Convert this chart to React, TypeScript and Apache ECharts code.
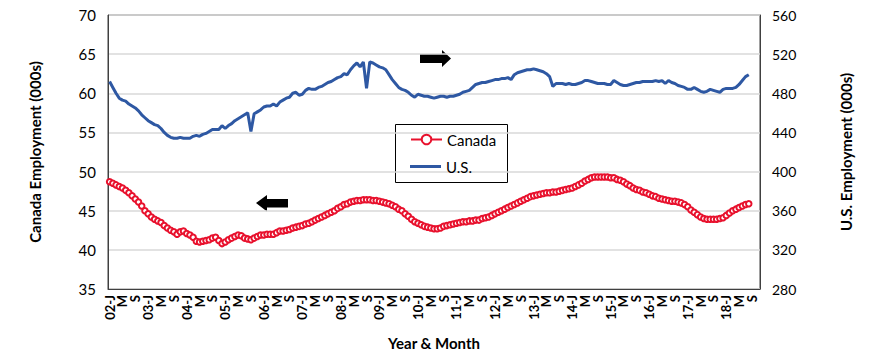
import React, { useEffect, useRef } from "react";
import * as echarts from "echarts";

// Monthly categories Jan 2002 .. Nov 2018
const MONTH_CODES = ["J", "F", "M", "A", "M", "J", "J", "A", "S", "O", "N", "D"];
const START_YEAR = 2002;
const CATEGORY_COUNT = 203;

// Canada employment (000s), monthly from Jan 2002
const canada: number[] = [
  // 2002
  48.7, 48.5, 48.3, 48.1, 47.9, 47.6, 47.3, 46.9, 46.5, 46.1, 45.6, 45.0,
  // 2003
  44.6, 44.2, 43.9, 43.7, 43.5, 43.1, 42.8, 42.5, 42.3, 42.0, 42.3, 42.4,
  // 2004
  42.1, 41.9, 41.6, 41.1, 41.0, 41.1, 41.2, 41.3, 41.5, 41.6, 41.2, 40.8,
  // 2005
  41.0, 41.3, 41.5, 41.7, 41.9, 41.8, 41.5, 41.4, 41.3, 41.5, 41.7, 41.9,
  // 2006
  41.9, 42.0, 42.0, 42.0, 42.2, 42.4, 42.4, 42.5, 42.6, 42.8, 42.9, 43.0,
  // 2007
  43.1, 43.3, 43.4, 43.6, 43.8, 44.0, 44.2, 44.4, 44.6, 44.8, 45.0, 45.3,
  // 2008
  45.5, 45.8, 45.9, 46.1, 46.2, 46.3, 46.3, 46.4, 46.4, 46.4, 46.3, 46.3,
  // 2009
  46.2, 46.1, 46.0, 45.9, 45.7, 45.5, 45.2, 45.0, 44.6, 44.3, 43.9, 43.6,
  // 2010
  43.4, 43.2, 43.0, 42.9, 42.8, 42.7, 42.7, 42.8, 43.0, 43.1, 43.2, 43.3,
  // 2011
  43.4, 43.5, 43.6, 43.6, 43.7, 43.7, 43.8, 43.8, 44.0, 44.1, 44.2, 44.4,
  // 2012
  44.6, 44.8, 45.0, 45.2, 45.4, 45.6, 45.8, 46.0, 46.2, 46.4, 46.6, 46.8,
  // 2013
  46.9, 47.0, 47.1, 47.2, 47.3, 47.3, 47.4, 47.4, 47.5, 47.6, 47.7, 47.8,
  // 2014
  47.9, 48.1, 48.3, 48.5, 48.8, 49.0, 49.2, 49.3, 49.3, 49.3, 49.3, 49.3,
  // 2015
  49.2, 49.2, 49.0, 48.9, 48.7, 48.4, 48.2, 47.9, 47.7, 47.6, 47.4, 47.3,
  // 2016
  47.1, 46.9, 46.8, 46.6, 46.5, 46.4, 46.3, 46.2, 46.2, 46.1, 46.0, 45.8,
  // 2017
  45.5, 45.1, 44.8, 44.5, 44.2, 44.0, 43.9, 43.9, 43.9, 43.9, 44.0, 44.1,
  // 2018
  44.4, 44.7, 45.0, 45.2, 45.4, 45.6, 45.8, 45.9,
];

// U.S. employment (000s), monthly from Jan 2002
const us: number[] = [
  // 2002
  492, 486, 480, 475, 473, 472, 469, 467, 465, 462, 458, 455,
  // 2003
  452, 450, 448, 447, 444, 440, 437, 435, 434, 434, 435, 434,
  // 2004
  434, 434, 436, 437, 436, 438, 439, 441, 443, 443, 443, 447,
  // 2005
  444, 447, 449, 452, 454, 456, 458, 460, 441, 459, 461, 463,
  // 2006
  466, 467, 467, 469, 467, 471, 473, 475, 476, 480, 481, 478,
  // 2007
  479, 483, 485, 484, 484, 486, 487, 489, 491, 492, 494, 496,
  // 2008
  497, 500, 499, 504, 508, 511, 507, 512, 485, 512, 511, 509,
  // 2009
  507, 506, 504, 499, 494, 490, 486, 484, 483, 481, 478, 476,
  // 2010
  479, 478, 477, 477, 476, 475, 476, 477, 477, 476, 477, 477,
  // 2011
  478, 479, 481, 482, 483, 486, 489, 490, 491, 491, 492, 493,
  // 2012
  494, 494, 495, 495, 496, 494, 499, 501, 502, 503, 504, 504,
  // 2013
  505, 504, 503, 502, 500, 497, 487, 490, 490, 490, 489, 490,
  // 2014
  489, 489, 490, 491, 493, 493, 492, 491, 490, 490, 490, 489,
  // 2015
  489, 493, 491, 489, 488, 488, 489, 490, 491, 491, 492, 492,
  // 2016
  492, 492, 493, 492, 493, 490, 493, 491, 490, 488, 487, 486,
  // 2017
  484, 484, 486, 484, 482, 481, 482, 484, 483, 482, 481, 484,
  // 2018
  485, 485, 485, 486, 489, 493, 497, 499,
];

const leftTicks = { min: 35, max: 70, interval: 5 };
const rightTicks = { min: 280, max: 560, interval: 40 };

const categories: string[] = [];
for (let i = 0; i < CATEGORY_COUNT; i++) {
  const y = START_YEAR + Math.floor(i / 12);
  const m = i % 12;
  const yy = String(y % 100).padStart(2, "0");
  categories.push(m === 0 ? `${yy}-J` : MONTH_CODES[m]);
}

const FONT = "Lato, 'DejaVu Sans', sans-serif";
const RED = "#e8112d";
const BLUE = "#2e58a3";

export default function App() {
  const ref = useRef<HTMLDivElement>(null);
  useEffect(() => {
    document.body.style.margin = "0";
    if (!ref.current) return;
    const chart = echarts.init(ref.current, null, { renderer: "svg" });
    const legendText = { fontSize: 15, color: "#000", fontFamily: FONT };
    chart.setOption({
      animation: false,
      backgroundColor: "#ffffff",
      textStyle: { fontFamily: FONT },
      grid: {
        left: 108,
        right: 110,
        top: 15,
        bottom: 73,
        show: true,
        borderColor: "#404040",
        borderWidth: 1,
      },
      legend: [
        {
          orient: "vertical",
          left: 410,
          top: 132,
          data: ["Canada"],
          itemWidth: 31,
          itemHeight: 12,
          padding: 0,
          textStyle: legendText,
        },
        {
          orient: "vertical",
          left: 410,
          top: 159,
          data: [{ name: "U.S.", icon: "rect" }],
          itemWidth: 31,
          itemHeight: 3,
          padding: 0,
          textStyle: legendText,
        },
      ],
      xAxis: {
        type: "category",
        data: categories,
        boundaryGap: true,
        axisLine: { show: true, lineStyle: { color: "#404040" } },
        axisTick: { show: false },
        axisLabel: {
          rotate: 90,
          interval: (index: number) => index % 4 === 0,
          fontSize: 13,
          fontWeight: "bold",
          color: "#000",
          margin: 6,
          fontFamily: FONT,
        },
        name: "Year & Month",
        nameLocation: "middle",
        nameGap: 46,
        nameTextStyle: { fontSize: 15, fontWeight: "bold", color: "#000", fontFamily: FONT },
      },
      yAxis: [
        {
          type: "value",
          min: leftTicks.min,
          max: leftTicks.max,
          interval: leftTicks.interval,
          position: "left",
          axisLine: { show: true, lineStyle: { color: "#404040" } },
          axisTick: { show: false },
          axisLabel: { fontSize: 15, color: "#000", margin: 12, fontFamily: FONT },
          splitLine: { show: true, lineStyle: { color: "#d9d9d9", width: 1.5 } },
          name: "Canada Employment (000s)",
          nameLocation: "middle",
          nameGap: 66,
          nameTextStyle: { fontSize: 15, fontWeight: "bold", color: "#000", fontFamily: FONT },
        },
        {
          type: "value",
          min: rightTicks.min,
          max: rightTicks.max,
          interval: rightTicks.interval,
          position: "right",
          axisLine: { show: true, lineStyle: { color: "#404040" } },
          axisTick: { show: false },
          axisLabel: { fontSize: 14, color: "#000", margin: 12, fontFamily: FONT },
          splitLine: { show: false },
          name: "U.S. Employment (000s)",
          nameLocation: "middle",
          nameGap: 78,
          nameTextStyle: { fontSize: 15, fontWeight: "bold", color: "#000", fontFamily: FONT },
        },
      ],
      series: [
        {
          name: "Canada",
          type: "line",
          yAxisIndex: 0,
          data: canada,
          symbol: "emptyCircle",
          symbolSize: 5.5,
          showSymbol: true,
          showAllSymbol: true,
          color: RED,
          itemStyle: { color: RED, borderWidth: 1.2 },
          lineStyle: { color: RED, width: 1.5 },
          z: 3,
        },
        {
          name: "U.S.",
          type: "line",
          yAxisIndex: 1,
          data: us,
          symbol: "none",
          color: BLUE,
          itemStyle: { color: BLUE },
          lineStyle: { color: BLUE, width: 3 },
          z: 2,
        },
      ],
      graphic: [
        {
          type: "rect",
          shape: { x: 395.5, y: 124.5, width: 112, height: 58 },
          style: { fill: "#fff", stroke: "#000", lineWidth: 1 },
          z: 0,
          zlevel: 0,
          silent: true,
        },
        {
          type: "polygon",
          shape: {
            points: [
              [420, 54], [442, 54], [442, 50], [451, 58.5], [442, 67], [442, 63], [420, 63],
            ],
          },
          style: { fill: "#000" },
        },
        {
          type: "polygon",
          shape: {
            points: [
              [288, 199], [267, 199], [267, 195], [256, 203], [267, 211.5], [267, 207.5], [288, 207.5],
            ],
          },
          style: { fill: "#000" },
        },
      ],
    });
    return () => chart.dispose();
  }, []);
  return <div ref={ref} style={{ width: 870, height: 362 }} />;
}
